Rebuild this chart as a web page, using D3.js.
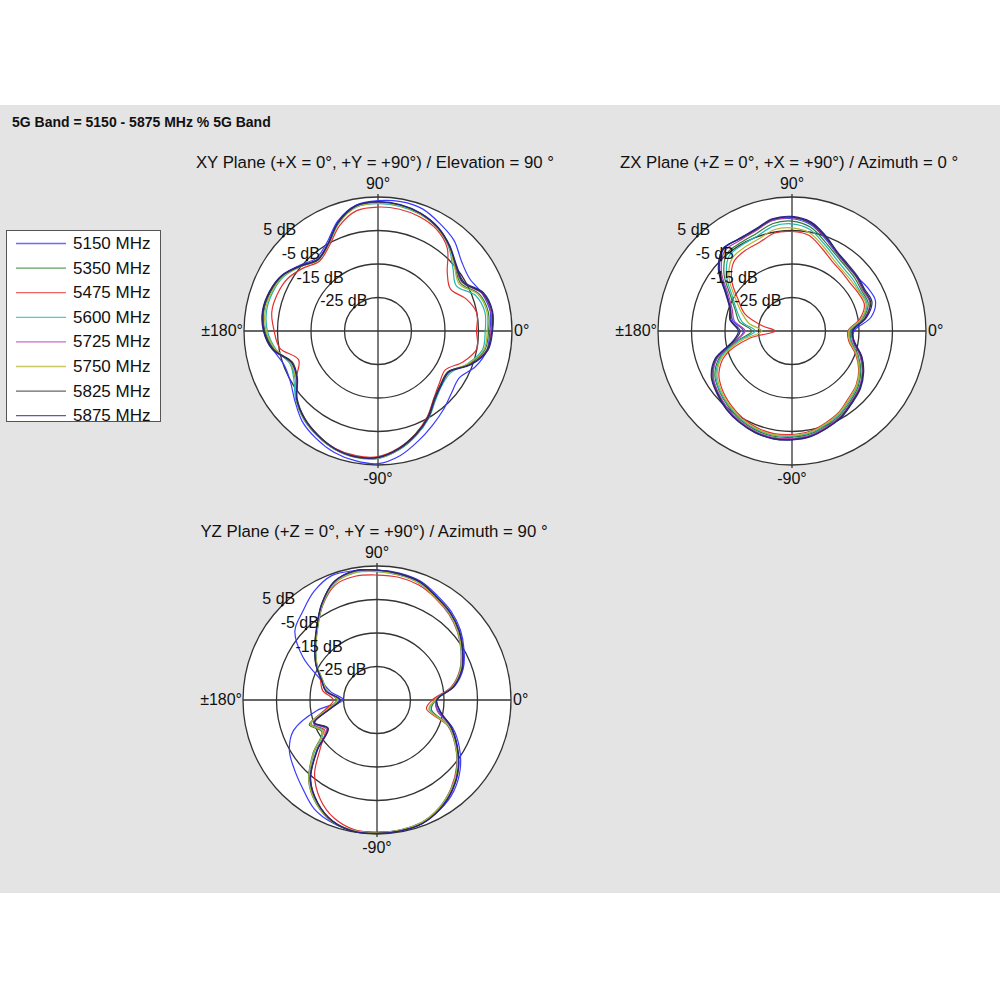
<!DOCTYPE html>
<html><head><meta charset="utf-8">
<script src="https://cdn.jsdelivr.net/npm/d3@7"></script>
<style>body{margin:0;background:#fff}svg{display:block;font-family:"Liberation Sans",Arial,sans-serif}</style>
</head><body><svg id="c" width="1000" height="1000"></svg>
<script>
// ---- data ----
const mainTitle = "5G Band = 5150 - 5875 MHz % 5G Band";
const seriesNames = ["5150 MHz","5350 MHz","5475 MHz","5600 MHz","5725 MHz","5750 MHz","5825 MHz","5875 MHz"];
const seriesColors = ["#3a3aff","#2e7d32","#e53030","#22b5b5","#b040b0","#b5b530","#333333","#26268c"];
const angles = [0,10,20,30,40,50,60,70,80,90,100,110,120,130,140,150,160,170,180,190,200,210,220,230,240,250,260,270,280,290,300,310,320,330,340,350];
const ringLevels = [-25,-15,-5,5];
const ringLabels = ["-25 dB","-15 dB","-5 dB","5 dB"];
const angleLabels = ["90°","0°","-90°","±180°"];
const planeTitles = ["XY Plane (+X = 0°, +Y = +90°) / Elevation = 90 °","ZX Plane (+Z = 0°, +X = +90°) / Azimuth = 0 °","YZ Plane (+Z = 0°, +Y = +90°) / Azimuth = 90 °"];

// XY plane (dB), order = seriesNames
const xy5150 = [-1.6,-1.0,-2.0,-3.5,-2.5,0.3,2.0,3.8,4.2,3.9,3.1,0.0,-4.5,-6.5,-4.5,-2.0,-0.8,-0.3,-1.2,-3.2,-5.2,-4.8,-2.6,0.2,2.0,3.5,4.3,4.6,2.8,0.0,-2.5,-4.5,-6.3,-7.0,-4.0,-2.0];
const xy5350 = [-2.0,-1.6,-2.8,-6.5,-5.0,-1.8,0.6,2.2,3.0,3.3,2.7,-0.6,-5.2,-7.2,-4.9,-2.1,-0.9,-0.4,-1.2,-3.6,-7.0,-6.5,-3.2,-0.6,1.1,2.6,3.3,3.0,1.0,-1.8,-5.0,-8.6,-10.4,-10.6,-6.2,-2.6];
const xy5475 = [-5.6,-5.0,-7.0,-10.0,-8.0,-2.8,0.0,1.3,1.9,2.0,1.5,-1.5,-5.8,-7.8,-5.8,-3.8,-3.0,-2.8,-4.0,-5.3,-9.8,-6.8,-3.2,-0.8,1.0,2.3,2.8,2.5,0.5,-2.3,-5.5,-9.0,-11.0,-11.8,-8.0,-5.0];
const xy5600 = [-3.0,-2.6,-4.0,-8.0,-5.8,-2.2,0.5,2.0,2.8,3.0,2.5,-0.8,-5.3,-7.3,-5.0,-2.5,-1.5,-1.2,-2.0,-4.0,-7.0,-6.0,-3.0,-0.5,1.2,2.6,3.2,3.0,1.0,-1.8,-4.8,-8.2,-10.0,-10.0,-6.5,-3.3];
const xy5725 = [-1.3,-0.8,-2.0,-6.0,-4.8,-1.9,0.7,2.3,3.2,3.5,2.9,-0.4,-5.1,-7.1,-4.8,-1.9,-0.6,-0.1,-0.9,-3.2,-7.6,-7.0,-3.4,-0.9,0.9,2.4,3.1,2.8,0.8,-2.1,-5.1,-8.6,-10.3,-10.6,-5.8,-2.0];
const xy5750 = [-2.4,-2.0,-3.2,-7.0,-5.2,-2.0,0.5,2.1,3.0,3.2,2.6,-0.7,-5.3,-7.3,-5.0,-2.3,-1.2,-0.8,-1.6,-3.8,-7.2,-6.6,-3.2,-0.6,1.1,2.6,3.2,2.9,0.9,-1.9,-5.0,-8.5,-10.3,-10.4,-6.4,-2.9];
const xy5825 = [-1.0,-0.5,-1.8,-5.8,-4.6,-1.9,0.6,2.3,3.2,3.5,2.9,-0.5,-5.2,-7.2,-4.9,-2.0,-0.7,-0.2,-1.0,-3.3,-7.8,-7.2,-3.5,-1.0,0.8,2.4,3.1,2.7,0.6,-2.2,-5.3,-8.8,-10.5,-10.8,-5.8,-2.0];
const xy5875 = [-0.8,-0.3,-1.5,-5.5,-4.4,-1.7,0.8,2.4,3.3,3.6,3.0,-0.3,-5.0,-7.0,-4.7,-1.8,-0.5,0.0,-0.8,-3.0,-7.5,-7.0,-3.3,-0.8,1.0,2.5,3.2,2.8,0.8,-2.0,-5.0,-8.5,-10.2,-10.5,-5.5,-1.7];

// ZX plane (dB)
const zx5150 = [-16.5,-11.0,-8.5,-9.0,-9.8,-9.5,-8.3,-5.8,-2.8,-1.5,-1.5,-3.0,-3.3,-3.2,-6.8,-12.5,-15.5,-17.0,-20.5,-18.0,-11.2,-7.8,-6.2,-4.9,-3.8,-3.0,-2.6,-2.8,-3.3,-4.5,-5.6,-7.3,-8.6,-10.6,-13.2,-16.3];
const zx5350 = [-17.5,-13.5,-10.8,-11.0,-10.5,-10.0,-8.8,-6.5,-3.5,-2.2,-2.4,-4.0,-4.5,-4.8,-8.5,-13.8,-17.0,-19.0,-23.0,-18.5,-12.0,-8.4,-6.8,-5.5,-4.3,-3.5,-3.1,-3.3,-3.8,-5.0,-6.2,-7.8,-9.2,-11.3,-14.0,-17.0];
const zx5475 = [-18.3,-14.5,-12.0,-12.2,-12.5,-12.0,-11.0,-8.8,-6.0,-5.3,-5.3,-6.8,-7.2,-8.0,-11.5,-16.5,-20.0,-26.0,-30.0,-22.0,-13.8,-9.8,-7.8,-6.4,-5.2,-4.3,-3.9,-4.1,-4.6,-5.8,-7.0,-8.8,-10.0,-12.0,-14.8,-17.8];
const zx5600 = [-17.8,-13.8,-11.2,-11.5,-11.2,-10.8,-9.5,-7.2,-4.2,-3.0,-3.2,-4.8,-5.3,-5.8,-9.5,-14.5,-17.5,-20.0,-24.0,-19.0,-12.5,-8.8,-7.0,-5.8,-4.6,-3.8,-3.4,-3.6,-4.1,-5.3,-6.5,-8.2,-9.6,-11.6,-14.3,-17.2];
const zx5725 = [-17.2,-13.0,-10.3,-10.6,-10.0,-9.5,-8.2,-5.5,-2.5,-1.2,-1.5,-3.2,-3.8,-3.8,-7.5,-13.0,-16.0,-17.5,-21.0,-17.8,-11.2,-7.8,-6.3,-5.0,-3.9,-3.1,-2.7,-2.9,-3.4,-4.6,-5.8,-7.5,-8.8,-10.8,-13.4,-16.5];
const zx5750 = [-18.0,-14.0,-11.5,-11.8,-11.8,-11.5,-10.3,-8.0,-5.2,-4.2,-4.3,-5.8,-6.3,-7.0,-10.5,-15.5,-19.0,-22.0,-26.0,-20.0,-13.0,-9.2,-7.4,-6.0,-4.8,-4.0,-3.6,-3.8,-4.3,-5.5,-6.8,-8.5,-9.8,-11.8,-14.5,-17.5];
const zx5825 = [-16.8,-12.8,-10.0,-10.3,-9.8,-9.3,-8.0,-5.3,-2.3,-1.0,-1.2,-2.9,-3.4,-2.9,-6.6,-12.2,-15.4,-16.5,-19.5,-17.3,-10.8,-7.4,-6.0,-4.6,-3.6,-2.8,-2.4,-2.6,-3.1,-4.3,-5.5,-7.2,-8.5,-10.5,-13.0,-16.2];
const zx5875 = [-17.0,-12.5,-9.6,-10.0,-9.5,-9.0,-7.8,-5.0,-2.0,-0.8,-1.0,-2.7,-3.2,-3.0,-6.3,-12.0,-15.2,-16.2,-19.0,-17.0,-10.5,-7.2,-5.8,-4.5,-3.5,-2.7,-2.3,-2.5,-3.0,-4.2,-5.3,-7.0,-8.3,-10.3,-12.8,-16.0];

// YZ plane (dB)
const yz5150 = [-17.5,-11.5,-7.6,-5.0,-2.5,-0.5,1.0,2.8,3.5,3.8,4.2,4.5,2.5,-0.5,-3.0,-9.5,-17.0,-21.0,-25.0,-16.7,-8.5,-4.8,-2.8,-0.5,2.5,4.0,4.6,4.4,4.4,3.9,2.7,0.6,-2.6,-6.6,-11.0,-16.5];
const yz5350 = [-17.5,-12.0,-8.3,-5.8,-3.3,-1.2,0.3,2.2,3.0,3.5,3.8,2.2,-2.2,-7.2,-11.0,-14.2,-17.6,-19.8,-23.0,-20.0,-13.5,-16.0,-10.0,-3.3,1.0,3.8,4.7,4.6,4.5,4.0,2.3,-0.3,-3.6,-7.8,-12.0,-18.5];
const yz5475 = [-18.5,-12.5,-8.7,-6.0,-3.6,-1.6,0.0,1.5,2.2,2.3,2.5,1.5,-2.5,-7.3,-11.0,-14.2,-17.0,-18.5,-22.0,-19.5,-14.0,-17.0,-13.0,-6.0,-1.0,2.5,4.3,4.6,4.6,4.0,2.2,-0.6,-4.0,-8.0,-12.5,-20.0];
const yz5600 = [-17.8,-12.2,-8.5,-6.0,-3.5,-1.4,0.1,2.0,2.8,3.3,3.5,2.0,-2.4,-7.4,-11.2,-14.4,-17.8,-20.0,-23.5,-20.5,-14.0,-16.5,-10.5,-3.6,0.8,3.7,4.6,4.6,4.4,3.9,2.1,-0.5,-3.8,-8.0,-12.3,-19.0];
const yz5725 = [-17.3,-11.9,-8.1,-5.6,-3.1,-1.1,0.4,2.4,3.1,3.7,4.0,2.4,-2.1,-7.1,-10.9,-14.1,-17.5,-19.6,-23.8,-20.8,-14.8,-17.6,-11.4,-4.0,0.5,3.5,4.7,4.7,4.6,4.2,2.5,-0.1,-3.4,-7.5,-11.7,-16.8];
const yz5750 = [-17.6,-12.1,-8.4,-5.9,-3.4,-1.3,0.2,2.1,2.9,3.4,3.6,2.1,-2.3,-7.3,-11.1,-14.3,-17.7,-19.9,-23.2,-20.2,-13.8,-16.2,-10.2,-3.4,0.9,3.7,4.6,4.6,4.4,3.9,2.2,-0.4,-3.7,-7.9,-12.1,-19.3];
const yz5825 = [-17.1,-11.7,-7.9,-5.4,-2.9,-0.9,0.6,2.6,3.3,3.8,4.1,2.6,-1.9,-6.9,-10.7,-13.9,-17.3,-19.4,-24.2,-21.2,-15.2,-18.2,-11.8,-4.2,0.4,3.5,4.8,4.8,4.7,4.3,2.6,0.1,-3.2,-7.3,-11.4,-15.8];
const yz5875 = [-17.2,-11.8,-8.0,-5.5,-3.0,-1.0,0.5,2.5,3.2,3.8,4.1,2.5,-2.0,-7.0,-10.8,-14.0,-17.4,-19.5,-24.0,-21.0,-15.0,-18.0,-11.6,-4.0,0.5,3.6,4.8,4.8,4.7,4.3,2.6,0.0,-3.3,-7.4,-11.5,-16.0];

const xySeries = [xy5150,xy5350,xy5475,xy5600,xy5725,xy5750,xy5825,xy5875];
const zxSeries = [zx5150,zx5350,zx5475,zx5600,zx5725,zx5750,zx5825,zx5875];
const yzSeries = [yz5150,yz5350,yz5475,yz5600,yz5725,yz5750,yz5825,yz5875];

// ---- drawing ----
const svg = d3.select("#c");
svg.append("rect").attr("x",0).attr("y",105).attr("width",1000).attr("height",788).attr("fill","#e4e4e4");
svg.append("text").attr("x",12).attr("y",126.5).attr("font-size",14).attr("font-weight","bold")
  .attr("fill","#111").text(mainTitle);

const R = 134;
const rScale = d3.scaleLinear().domain([-35, 5]).range([0, R]).clamp(true);
const toRad = d => (90 - d) * Math.PI / 180;   // math angle (ccw from +x) -> d3 radial angle

const planes = [
  {title: planeTitles[0], cx: 378, cy: 331, data: xySeries},
  {title: planeTitles[1], cx: 792, cy: 331, data: zxSeries},
  {title: planeTitles[2], cx: 377, cy: 700, data: yzSeries}
];

const line = d3.lineRadial()
  .angle(d => toRad(d[0]))
  .radius(d => rScale(d[1]))
  .curve(d3.curveCatmullRomClosed.alpha(0.5));

planes.forEach(p => {
  const g = svg.append("g").attr("transform", `translate(${p.cx},${p.cy})`);
  svg.append("text").attr("x", p.cx - 3).attr("y", p.cy - 163).attr("text-anchor","middle")
    .attr("font-size",16.8).attr("fill","#111").text(p.title);
  g.append("circle").attr("r", R).attr("fill","#fff");
  ringLevels.forEach(v => g.append("circle").attr("r", rScale(v)).attr("fill","none")
    .attr("stroke","#333").attr("stroke-width",1.3));
  g.append("line").attr("x1",-R).attr("x2",R).attr("stroke","#333").attr("stroke-width",1.3);
  g.append("line").attr("y1",-R-3).attr("y2",R+3).attr("stroke","#333").attr("stroke-width",1.3);

  p.data.forEach((vals, i) => {
    g.append("path").datum(angles.map((a, k) => [a, vals[k]]))
      .attr("d", line).attr("fill","none").attr("stroke", seriesColors[i]).attr("stroke-width",1.2);
  });

  // ring labels at 135 deg
  ringLevels.forEach((v, i) => {
    const rr = rScale(v), px = -rr * Math.SQRT1_2, py = -rr * Math.SQRT1_2;
    g.append("circle").attr("cx",px).attr("cy",py).attr("r",1.2).attr("fill","#111");
    g.append("text").attr("x", px + 13).attr("y", py - 1).attr("text-anchor","end")
      .attr("font-size",16).attr("fill","#111").text(ringLabels[i]);
  });
  // angle labels
  g.append("text").attr("x",0).attr("y",-R-8).attr("text-anchor","middle").attr("font-size",16).attr("fill","#111").text(angleLabels[0]);
  g.append("text").attr("x",R+2).attr("y",5).attr("text-anchor","start").attr("font-size",16).attr("fill","#111").text(angleLabels[1]);
  g.append("text").attr("x",0).attr("y",R+19).attr("text-anchor","middle").attr("font-size",16).attr("fill","#111").text(angleLabels[2]);
  g.append("text").attr("x",-R-1).attr("y",5).attr("text-anchor","end").attr("font-size",16).attr("fill","#111").text(angleLabels[3]);
});

// legend
const lg = svg.append("g");
lg.append("rect").attr("x",6.5).attr("y",230.5).attr("width",154).attr("height",191)
  .attr("fill","#fff").attr("stroke","#555").attr("stroke-width",1);
seriesNames.forEach((n, i) => {
  const y = 243.5 + i * 24.6;
  lg.append("line").attr("x1",16).attr("x2",66).attr("y1",y).attr("y2",y)
    .attr("stroke", seriesColors[i]).attr("stroke-width",1.3).attr("opacity",0.75);
  lg.append("text").attr("x",73).attr("y",y + 5.5).attr("font-size",17).attr("fill","#111").text(n);
});
</script></body></html>
